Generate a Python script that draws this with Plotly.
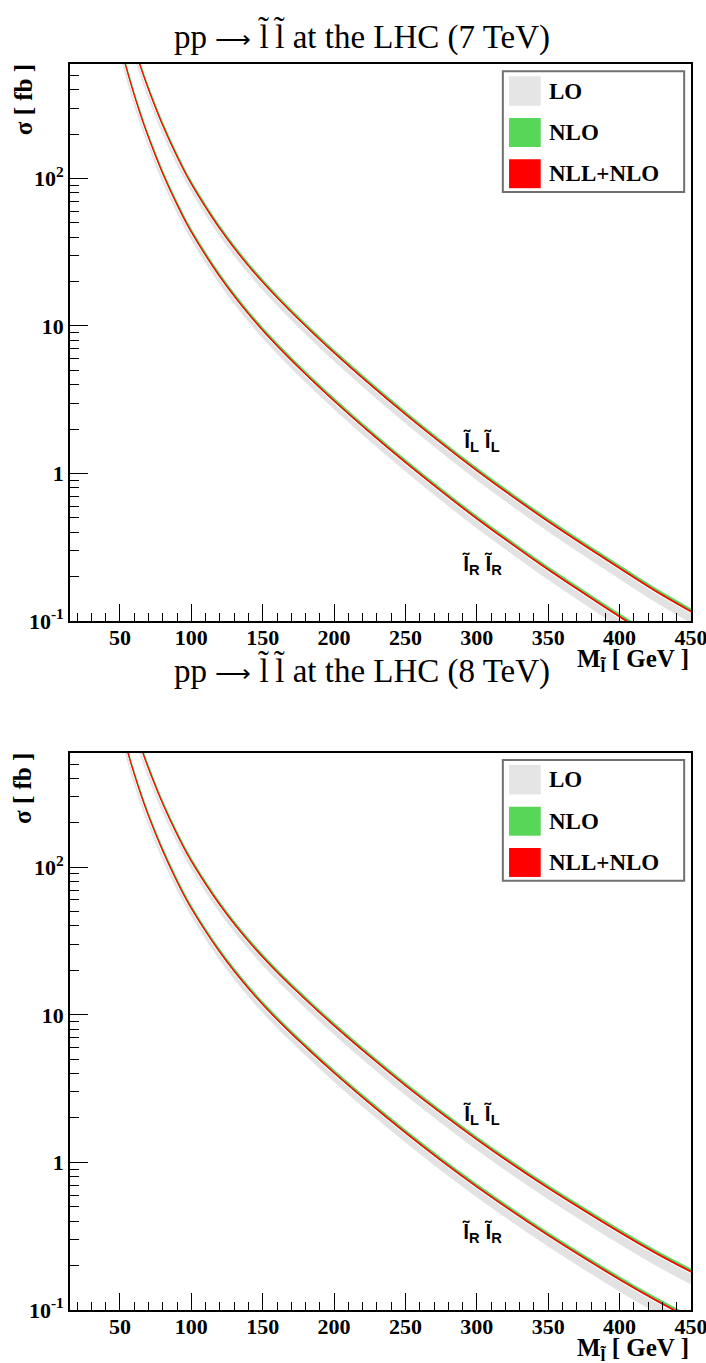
import math
import plotly.graph_objects as go

# ---------------- data ----------------
M = [50, 55, 60, 65, 70, 80, 90, 100, 120, 140, 160, 180, 200, 225, 250,
     275, 300, 325, 350, 375, 400, 425, 450]

# NLL+NLO central cross sections [fb]
LL7 = [1724, 1139, 779, 551, 402, 229, 141, 92.0, 45.7, 25.6, 15.6, 10.0, 6.59,
       4.03, 2.52, 1.61, 1.047, 0.698, 0.473, 0.327, 0.228, 0.160, 0.116]
RR7 = [814, 538, 368, 260, 190, 108, 66.5, 43.4, 21.6, 12.1, 7.35, 4.72, 3.11,
       1.90, 1.19, 0.760, 0.494, 0.330, 0.223, 0.154, 0.107, 0.0757, 0.0547]
LL8 = [1956, 1299, 894, 636, 467, 269, 167, 110, 55.6, 31.6, 19.5, 12.7, 8.45,
       5.24, 3.32, 2.16, 1.43, 0.970, 0.671, 0.473, 0.337, 0.244, 0.182]
RR8 = [936, 622, 428, 304, 223, 129, 80.0, 52.7, 26.6, 15.1, 9.31, 6.07, 4.05,
       2.51, 1.59, 1.03, 0.684, 0.465, 0.321, 0.226, 0.161, 0.117, 0.0869]

# band edges relative to the NLL+NLO central value
lo_hi_frac = [0.91, 0.91, 0.91, 0.915, 0.92, 0.93, 0.94, 0.95, 0.955, 0.96, 0.96,
              0.96, 0.96, 0.96, 0.96, 0.96, 0.96, 0.96, 0.96, 0.96, 0.96, 0.96, 0.96]
lo_lo_frac7 = [0.86, 0.86, 0.86, 0.865, 0.87, 0.875, 0.885, 0.89, 0.89, 0.888, 0.886,
               0.883, 0.88, 0.876, 0.872, 0.868, 0.864, 0.86, 0.856, 0.852, 0.848,
               0.844, 0.84]
lo_lo_frac8 = [0.86, 0.86, 0.86, 0.865, 0.87, 0.875, 0.885, 0.89, 0.888, 0.885, 0.881,
               0.877, 0.873, 0.868, 0.863, 0.858, 0.853, 0.848, 0.843, 0.838, 0.833,
               0.828, 0.823]
nlo_hi_frac = 1.045
nlo_lo_frac = 0.99
nll_hi_frac = 1.009
nll_lo_frac = 0.991

ARROW = '<span style="font-size:25px">\u27f6</span>'
titles = ["pp " + ARROW + " l\u0303\u2009l\u0303 at the LHC (7 TeV)",
          "pp " + ARROW + " l\u0303\u2009l\u0303 at the LHC (8 TeV)"]
xtick_vals = [50, 100, 150, 200, 250, 300, 350, 400, 450]
ytick_vals = [0.1, 1, 10, 100]
ytick_text = ["10<sup>-1</sup>", "1", "10", "10<sup>2</sup>"]
legend_names = ["LO", "NLO", "NLL+NLO"]

C_LO = "#e2e2e2"
C_NLO = "#58d658"
C_NLL = "#ff0000"

SERIF = "Liberation Serif"
SANS = "Liberation Sans"

fig = go.Figure()


def add_band(xa, ya, central, lo, hi, color, lw):
    lower = [c * f for c, f in zip(central, lo)]
    upper = [c * f for c, f in zip(central, hi)]
    fig.add_trace(go.Scatter(x=M, y=lower, mode="lines", xaxis=xa, yaxis=ya,
                             line=dict(color=color, width=lw, shape="spline"),
                             showlegend=False, hoverinfo="skip"))
    fig.add_trace(go.Scatter(x=M, y=upper, mode="lines", xaxis=xa, yaxis=ya,
                             line=dict(color=color, width=lw, shape="spline"),
                             fill="tonexty", fillcolor=color,
                             showlegend=False, hoverinfo="skip"))


panels = [("x", "y", LL7, RR7, lo_lo_frac7), ("x2", "y2", LL8, RR8, lo_lo_frac8)]
for xa, ya, LL, RR, lolo in panels:
    for cen in (LL, RR):
        add_band(xa, ya, cen, lolo, lo_hi_frac, C_LO, 0.8)
    for cen in (LL, RR):
        add_band(xa, ya, cen, [nlo_lo_frac] * len(M), [nlo_hi_frac] * len(M), C_NLO, 0.6)
    for cen in (LL, RR):
        add_band(xa, ya, cen, [nll_lo_frac] * len(M), [nll_hi_frac] * len(M), C_NLL, 0.8)

xminor = [v for v in range(20, 450, 10) if v % 50 != 0]
yminor = [m * 10 ** e for e in (-1, 0, 1, 2) for m in range(2, 10) if m * 10 ** e < 600]

common_x = dict(range=[15, 450], showgrid=False, zeroline=False, automargin=False,
                showline=True, linecolor="black", linewidth=1.6, mirror=True,
                ticks="inside", ticklen=17, tickwidth=1.2, tickcolor="black",
                tickvals=xtick_vals, ticklabeloverflow="allow", ticklabelstandoff=-4,
                tickfont=dict(family=SERIF, size=22, color="black", weight="bold"),
                minor=dict(tickvals=xminor, ticks="inside", ticklen=8,
                           tickwidth=1.2, tickcolor="black"))
common_y = dict(type="log", range=[-1, 2.776], showgrid=False, zeroline=False,
                automargin=False,
                showline=True, linecolor="black", linewidth=1.6, mirror=True,
                ticks="inside", ticklen=18, tickwidth=1.2, tickcolor="black",
                tickvals=ytick_vals, ticktext=ytick_text, ticklabeloverflow="allow",
                tickfont=dict(family=SERIF, size=22, color="black", weight="bold"),
                minor=dict(tickvals=yminor, ticks="inside", ticklen=9,
                           tickwidth=1.2, tickcolor="black"))

fig.update_layout(
    width=706, height=1363,
    margin=dict(l=70, r=15, t=64, b=53, autoexpand=False),
    paper_bgcolor="white", plot_bgcolor="white",
    xaxis=dict(domain=[0, 1], anchor="y", **common_x),
    yaxis=dict(domain=[0.553, 1], anchor="x", **common_y),
    xaxis2=dict(domain=[0, 1], anchor="y2", **common_x),
    yaxis2=dict(domain=[0, 0.4473], anchor="x2", **common_y),
    showlegend=False,
)

shapes = []
annotations = []
legend_colors = ["#e5e5e5", C_NLO, C_NLL]
label_pos = [((303.4, 1.63), (303.4, 0.24)), ((303.4, 2.1), (303.4, 0.334))]
title_y = [1.050, 1.148]

for i, (xa, ya, LL, RR, lolo) in enumerate(panels):
    xd = xa + " domain"
    yd = ya + " domain"
    # legend box
    shapes.append(dict(type="rect", xref=xd, yref=yd, x0=0.697, x1=0.989,
                       y0=0.770, y1=0.987, line=dict(color="#707070", width=2),
                       fillcolor="white", layer="above"))
    sw_y = [(0.925, 0.978), (0.851, 0.903), (0.777, 0.829)]
    tx_y = [0.9515, 0.877, 0.803]
    for (y0, y1), ty, col, name in zip(sw_y, tx_y, legend_colors, legend_names):
        shapes.append(dict(type="rect", xref=xd, yref=yd, x0=0.707, x1=0.758,
                           y0=y0, y1=y1, line=dict(width=0), fillcolor=col,
                           layer="above"))
        annotations.append(dict(xref=xd, yref=yd, x=0.768, y=ty, text=name,
                                showarrow=False, xanchor="left", yanchor="middle",
                                font=dict(family=SERIF, size=23, color="black",
                                          weight="bold")))
    # title
    annotations.append(dict(xref="paper", yref=yd, x=(362 - 70) / 621, y=title_y[i],
                            text=titles[i], showarrow=False, xanchor="center",
                            yanchor="middle",
                            font=dict(family=SERIF, size=33, color="black")))
    # axis titles
    annotations.append(dict(xref="paper", yref=yd, x=(23 - 70) / 621, y=0.935,
                            text="\u03c3 [ fb ]", textangle=-90, showarrow=False,
                            xanchor="center", yanchor="middle",
                            font=dict(family=SERIF, size=25, color="black",
                                      weight="bold")))
    annotations.append(dict(xref=xd, yref=yd, x=1.0, y=-0.071,
                            text="M<sub>l\u0303</sub> [ GeV ]", showarrow=False,
                            xanchor="right", yanchor="middle",
                            font=dict(family=SERIF, size=25, color="black",
                                      weight="bold")))
    # curve labels
    (lx, ly), (rx, ry) = label_pos[i]
    annotations.append(dict(xref=xa, yref=ya, x=lx, y=math.log10(ly),
                            text="l\u0303<sub>L</sub> l\u0303<sub>L</sub>",
                            showarrow=False, xanchor="center", yanchor="middle",
                            font=dict(family=SANS, size=21, color="black",
                                      weight="bold")))
    annotations.append(dict(xref=xa, yref=ya, x=rx, y=math.log10(ry),
                            text="l\u0303<sub>R</sub> l\u0303<sub>R</sub>",
                            showarrow=False, xanchor="center", yanchor="middle",
                            font=dict(family=SANS, size=21, color="black",
                                      weight="bold")))

fig.update_layout(shapes=shapes, annotations=annotations)
fig.write_html("out.html")
